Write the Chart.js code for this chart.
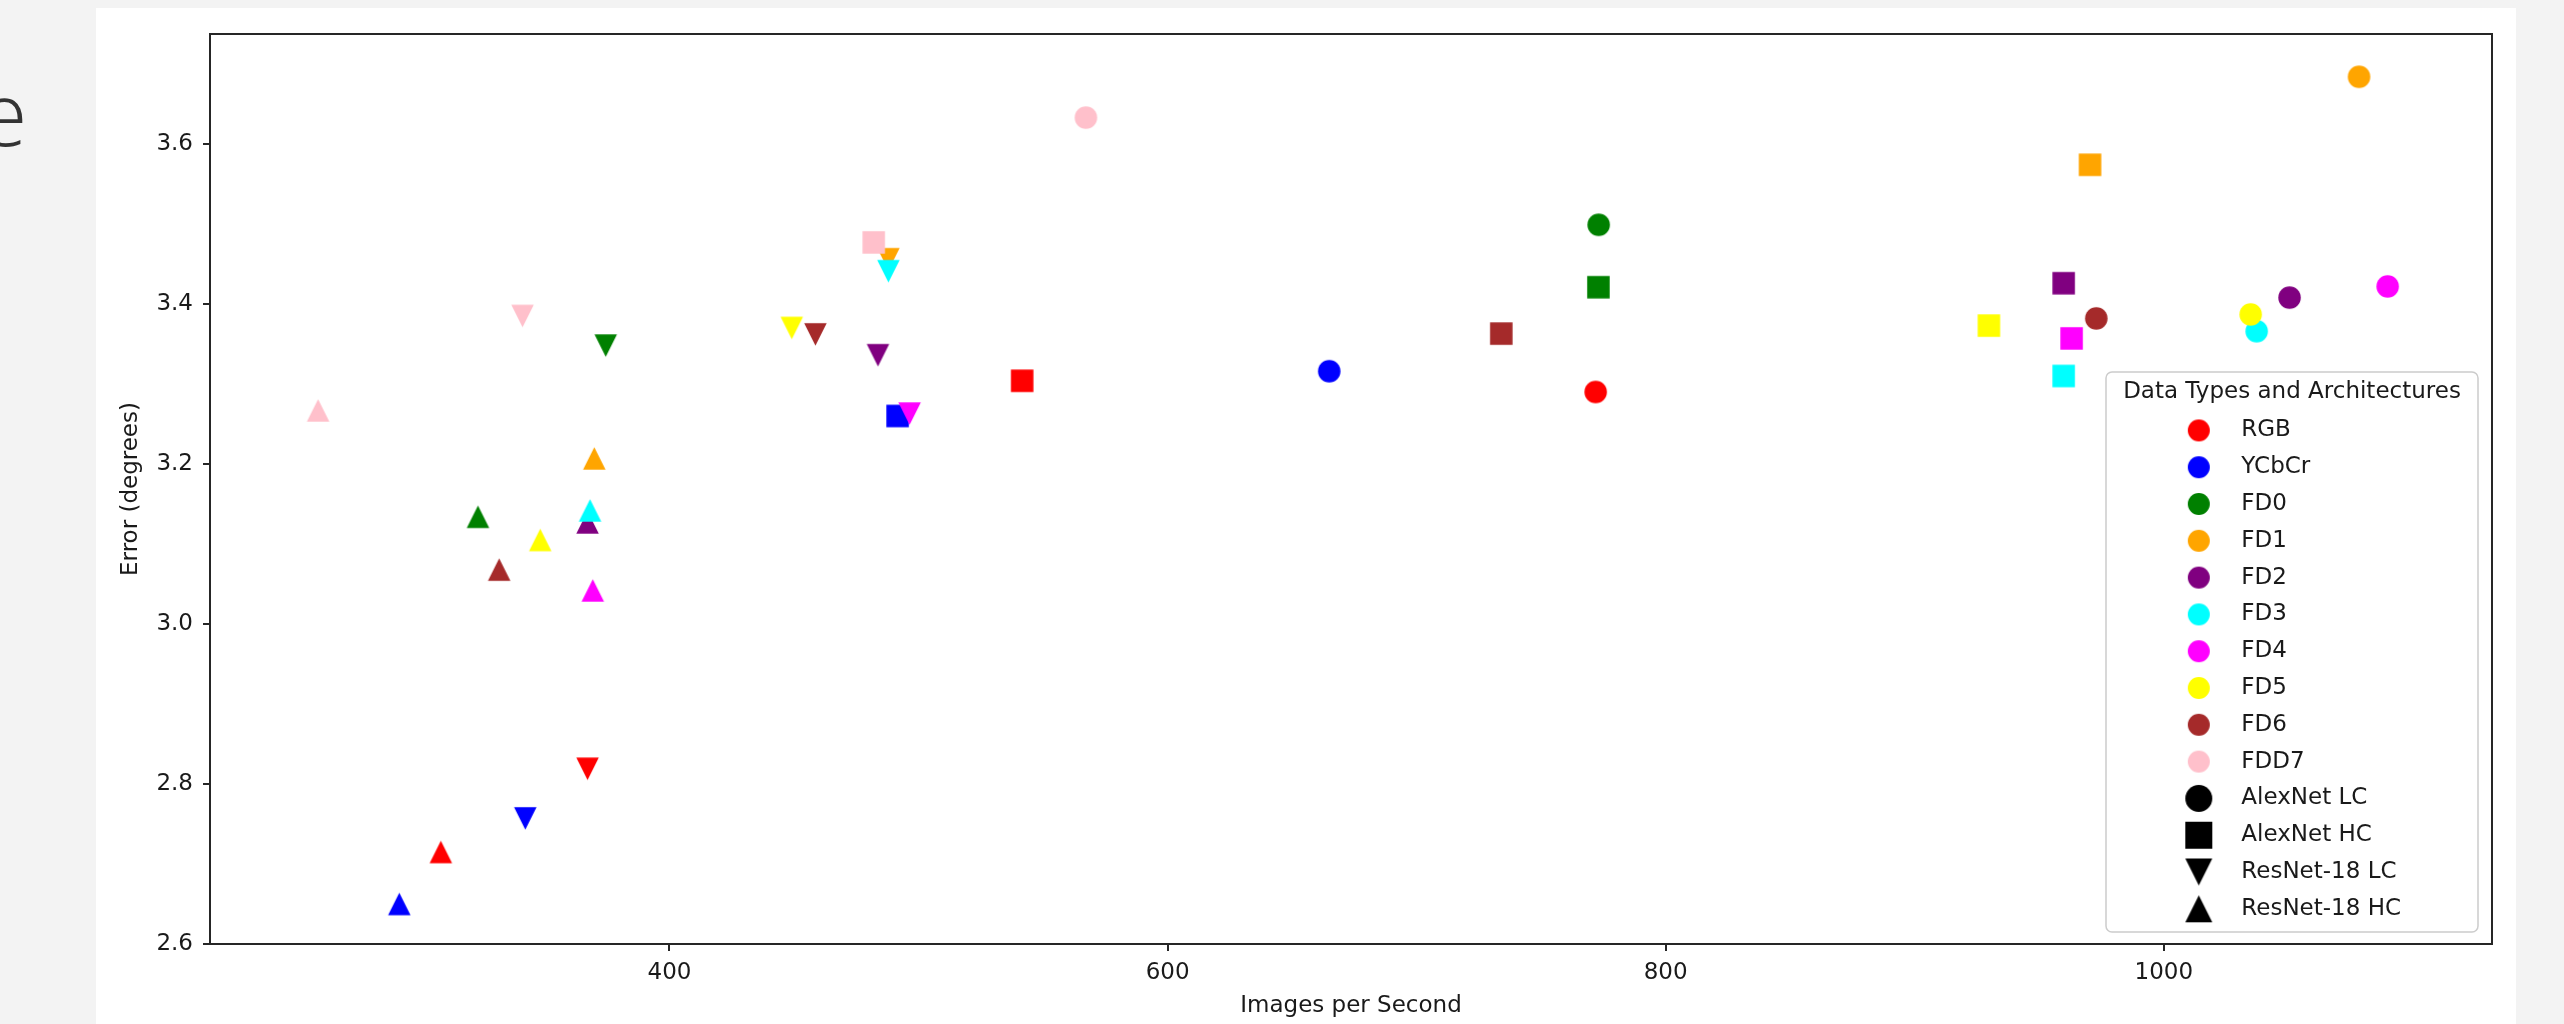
<!DOCTYPE html>
<html>
<head>
<meta charset="utf-8">
<title>Images per Second vs Error</title>
<script src="https://cdn.jsdelivr.net/npm/chart.js@4.4.0/dist/chart.umd.min.js"></script>
<style>
  html, body { margin: 0; padding: 0; }
  body { width: 2564px; height: 1024px; background: #f3f3f3; position: relative; overflow: hidden; }
  #slideText { position: absolute; left: -21px; top: 68px; font-family: "Open Sans"; font-weight: 300;
               font-size: 88px; line-height: 88px; color: #333; }
  #panel { position: absolute; left: 96px; top: 8px; width: 2420px; height: 1016px; background: #fff; }
</style>
</head>
<body>
<span id="slideText">e</span>
<div id="panel"><canvas id="chart" width="2420" height="1016"></canvas></div>
<script>
// data types (one colour each) and architectures (one marker each)
const types = ['RGB', 'YCbCr', 'FD0', 'FD1', 'FD2', 'FD3', 'FD4', 'FD5', 'FD6', 'FDD7'];
const typeColors = ['#ff0000', '#0000ff', '#008000', '#ffa500', '#800080', '#00ffff', '#ff00ff', '#ffff00', '#a52a2a', '#ffc0cb'];
const archs = ['AlexNet LC', 'AlexNet HC', 'ResNet-18 LC', 'ResNet-18 HC'];
const archShapes = ['circle', 'square', 'down', 'up'];

// images per second / error, in the order of types
const alexLcIps = [771.9, 664.9, 773.1, 1078.4, 1050.5, 1037.3, 1089.9, 1034.9, 972.9, 567.2];
const alexLcErr = [3.290, 3.316, 3.499, 3.684, 3.408, 3.366, 3.422, 3.387, 3.382, 3.633];
const alexHcIps = [541.6, 491.6, 773.0, 970.4, 959.8, 959.8, 963.0, 929.8, 734.0, 482.0];
const alexHcErr = [3.304, 3.260, 3.421, 3.574, 3.426, 3.310, 3.357, 3.373, 3.363, 3.477];
const resLcIps = [367.1, 342.1, 374.4, 487.9, 483.7, 487.9, 496.4, 449.1, 458.6, 341.0];
const resLcErr = [2.819, 2.757, 3.348, 3.456, 3.336, 3.441, 3.263, 3.370, 3.362, 3.385];
const resHcIps = [308.2, 291.5, 323.1, 369.8, 367.1, 368.1, 369.2, 348.1, 331.6, 258.9];
const resHcErr = [2.715, 2.650, 3.134, 3.207, 3.127, 3.142, 3.042, 3.105, 3.068, 3.267];

const xTicks = [400, 600, 800, 1000];
const yTicks = [2.6, 2.8, 3.0, 3.2, 3.4, 3.6];

const ipsByArch = [alexLcIps, alexHcIps, resLcIps, resHcIps];
const errByArch = [alexLcErr, alexHcErr, resLcErr, resHcErr];

const FONT = 'DejaVu Sans';
const TEXT = '#1a1a1a';
const AXIS = '#262626';

// matplotlib-like markers (triangles centred on their box, not on the centroid)
function makeMarker(shape, color, size) {
    const c = document.createElement('canvas');
    c.width = c.height = Math.ceil(size) + 4;
    const ctx = c.getContext('2d');
    const m = c.width / 2, h = size / 2;
    ctx.fillStyle = color;
    ctx.beginPath();
    if (shape === 'circle') {
        ctx.arc(m, m, h, 0, Math.PI * 2);
    } else if (shape === 'square') {
        ctx.rect(m - h, m - h, size, size);
    } else if (shape === 'down') {
        ctx.moveTo(m - h, m - h); ctx.lineTo(m + h, m - h); ctx.lineTo(m, m + h);
    } else {
        ctx.moveTo(m, m - h); ctx.lineTo(m + h, m + h); ctx.lineTo(m - h, m + h);
    }
    ctx.closePath();
    ctx.fill();
    return c;
}

const datasets = types.map((t, i) => ({
    label: t,
    data: archs.map((a, j) => ({ x: ipsByArch[j][i], y: errByArch[j][i] })),
    pointStyle: archShapes.map(s => makeMarker(s, typeColors[i], 22.5)),
    pointRadius: 11,
    pointHoverRadius: 11,
    order: types.length - i   // later types on top, like matplotlib
}));

const legendItems = types.map((t, i) => ({ label: t, marker: makeMarker('circle', typeColors[i], 22) }))
    .concat(archs.map((a, j) => ({ label: a, marker: makeMarker(archShapes[j], '#000000', 27) })));

// spines + legend box drawn over the points
const frameAndLegend = {
    id: 'frameAndLegend',
    afterDatasetsDraw(chart) {
        const { ctx, chartArea: a } = chart;
        ctx.save();
        ctx.strokeStyle = AXIS;
        ctx.lineWidth = 2;
        ctx.strokeRect(a.left, a.top, a.right - a.left, a.bottom - a.top);

        const w = 372, h = 560;
        const x0 = a.right - 14 - w, y0 = a.bottom - 12 - h;
        ctx.beginPath();
        ctx.roundRect(x0, y0, w, h, 6);
        ctx.fillStyle = 'rgba(255,255,255,0.8)';
        ctx.fill();
        ctx.strokeStyle = '#cccccc';
        ctx.lineWidth = 1.5;
        ctx.stroke();

        ctx.fillStyle = TEXT;
        ctx.font = '23px "' + FONT + '"';
        ctx.textBaseline = 'middle';
        ctx.textAlign = 'center';
        ctx.fillText('Data Types and Architectures', x0 + w / 2, y0 + 20);
        ctx.textAlign = 'left';
        legendItems.forEach((it, i) => {
            const y = y0 + 58.4 + i * 36.8;
            ctx.drawImage(it.marker, x0 + 92.8 - it.marker.width / 2, y - it.marker.height / 2);
            ctx.fillText(it.label, x0 + 135.3, y);
        });
        ctx.restore();
    }
};

const tickFont = { family: FONT, size: 23 };

new Chart(document.getElementById('chart').getContext('2d'), {
    type: 'scatter',
    data: { datasets: datasets },
    options: {
        responsive: false,
        animation: false,
        events: [],
        layout: { padding: { top: 26, right: 24, bottom: 0, left: 0 } },
        plugins: {
            legend: { display: false },
            tooltip: { enabled: false }
        },
        scales: {
            x: {
                type: 'linear',
                min: 215.5,
                max: 1131.8,
                afterBuildTicks: s => { s.ticks = xTicks.map(v => ({ value: v })); },
                afterFit: s => { s.height = 80; },
                ticks: { font: tickFont, color: TEXT, padding: 8, maxRotation: 0, callback: v => String(v) },
                grid: { drawOnChartArea: false, drawTicks: true, tickLength: 7, color: AXIS, lineWidth: 2 },
                border: { display: false },
                title: { display: true, text: 'Images per Second', font: tickFont, color: TEXT, padding: { top: 0, bottom: 4 } }
            },
            y: {
                type: 'linear',
                min: 2.6,
                max: 3.7375,
                afterBuildTicks: s => { s.ticks = yTicks.map(v => ({ value: v })); },
                afterFit: s => { s.width = 114; },
                ticks: { font: tickFont, color: TEXT, padding: 10, callback: v => v.toFixed(1) },
                grid: { drawOnChartArea: false, drawTicks: true, tickLength: 7, color: AXIS, lineWidth: 2 },
                border: { display: false },
                title: { display: true, text: 'Error (degrees)', font: tickFont, color: TEXT, padding: { top: 21, bottom: 0 } }
            }
        }
    },
    plugins: [frameAndLegend]
});
</script>
</body>
</html>
